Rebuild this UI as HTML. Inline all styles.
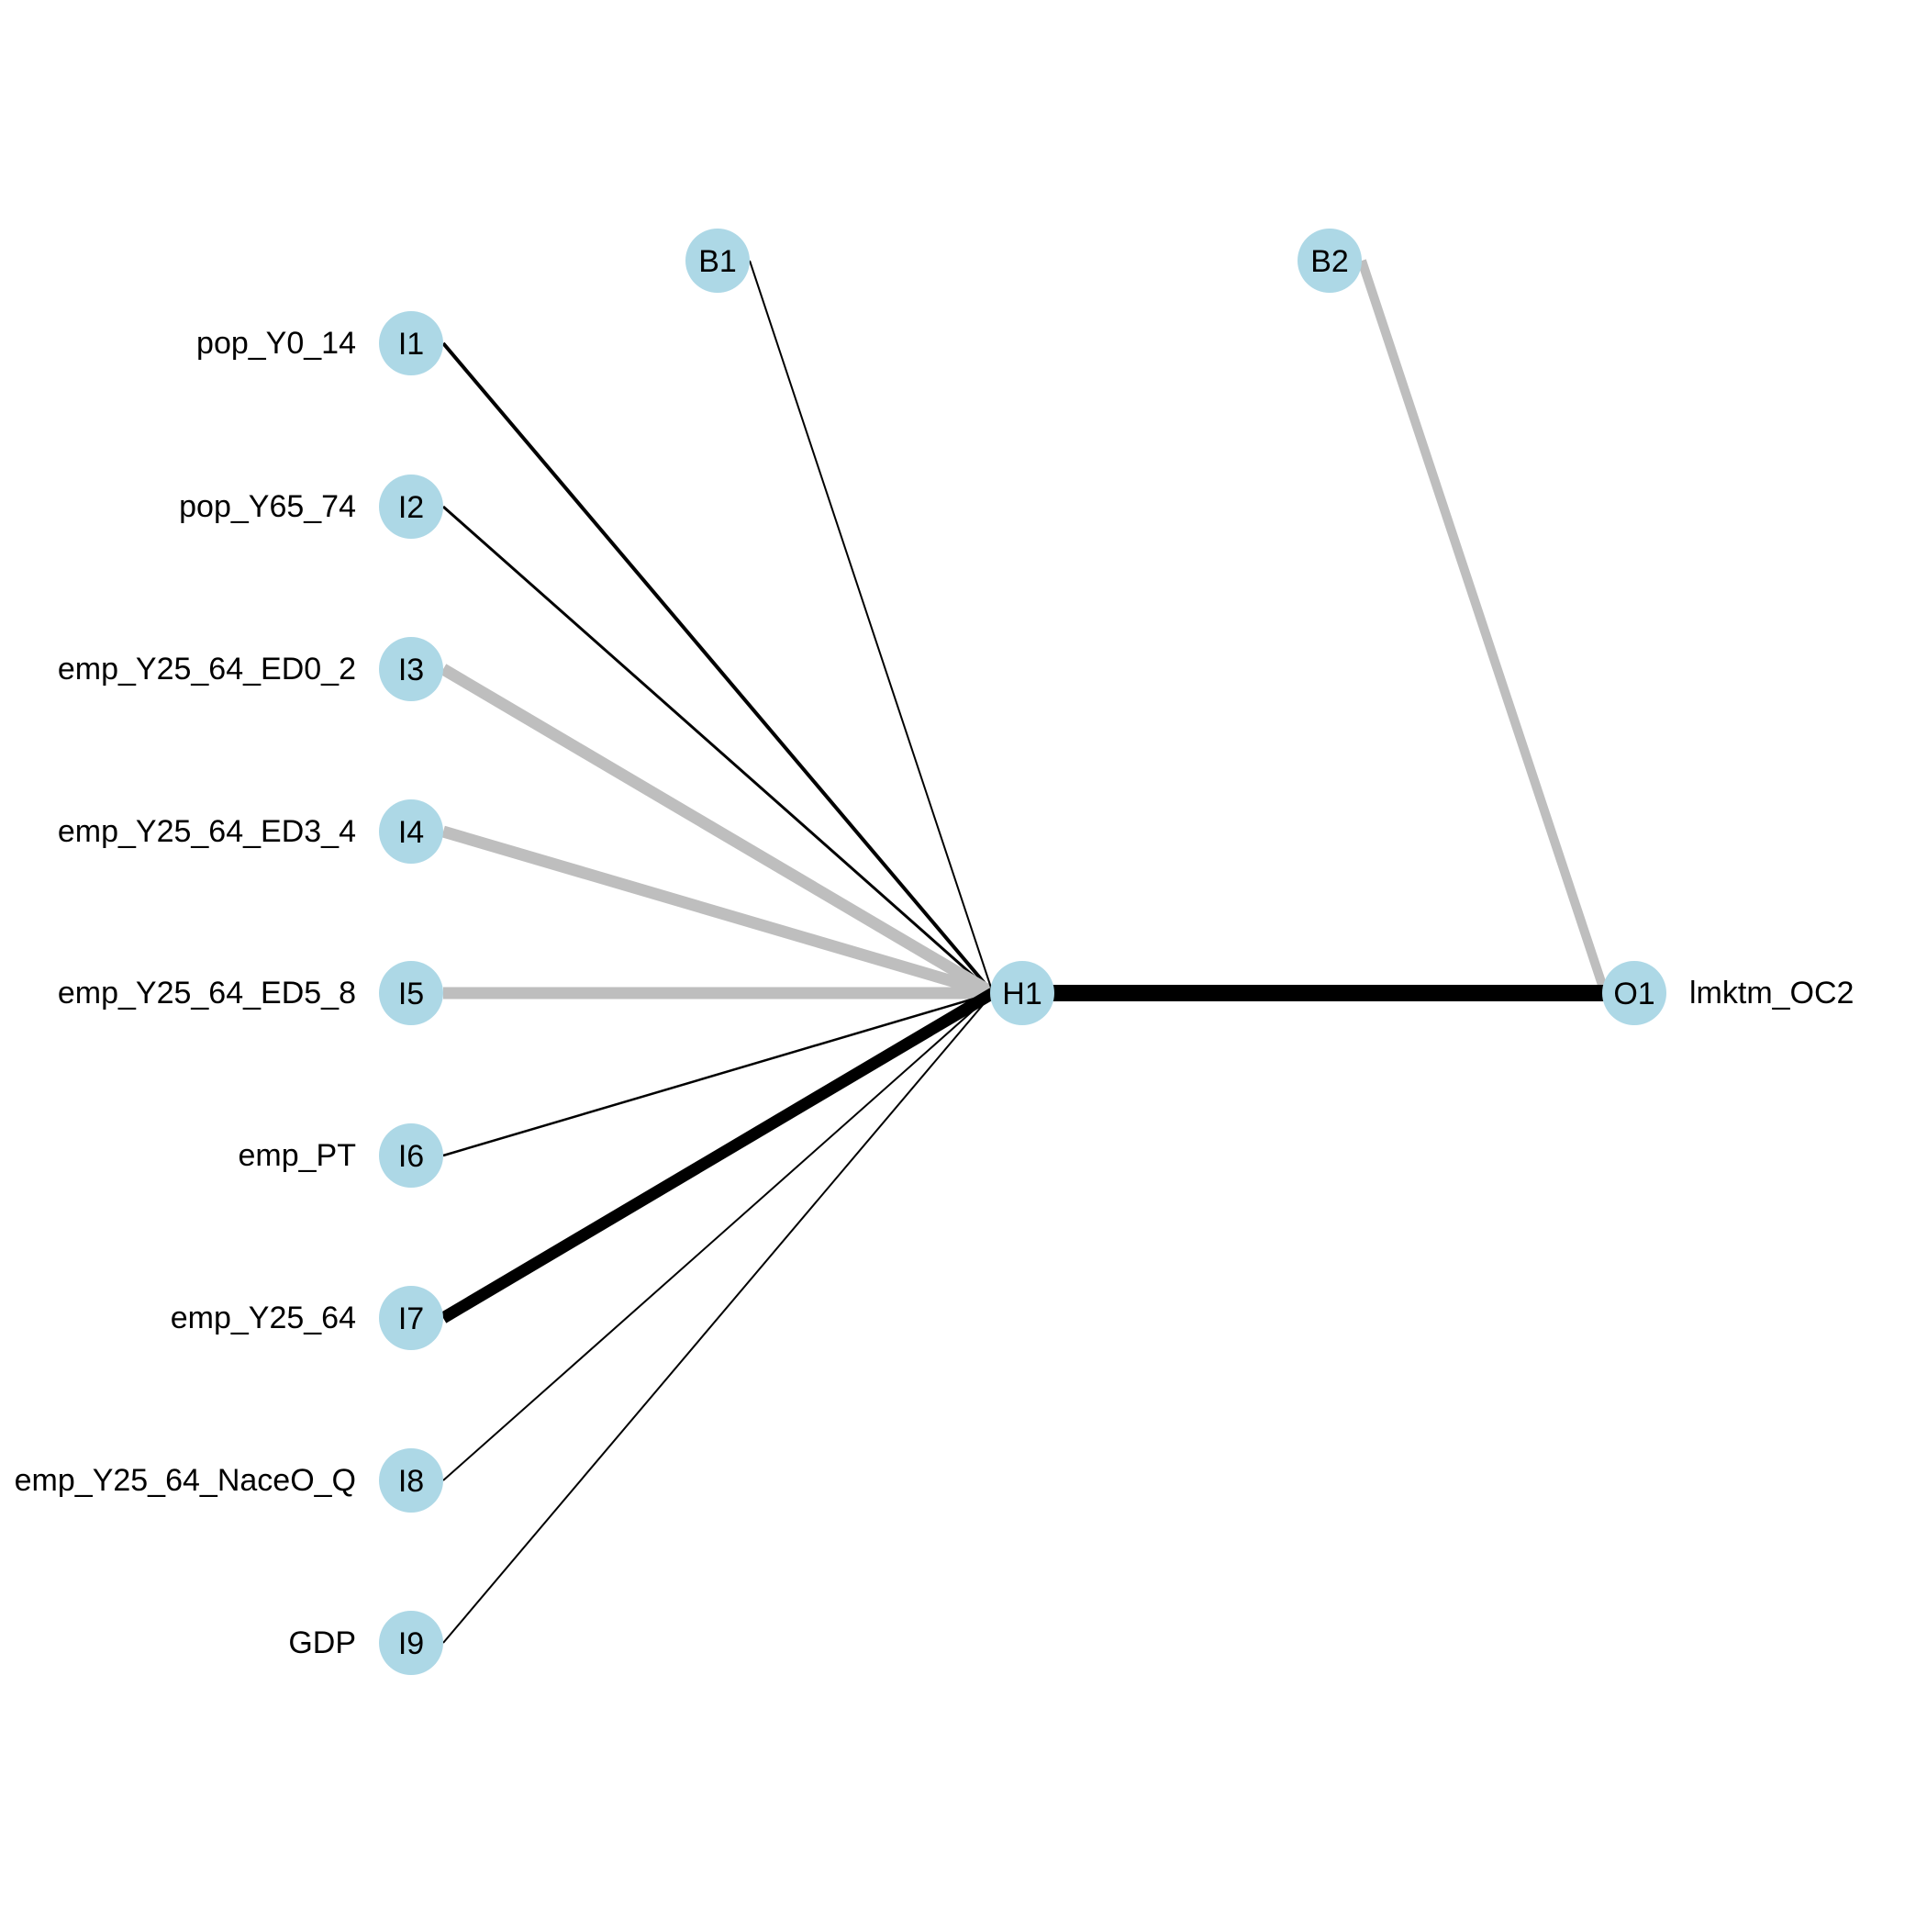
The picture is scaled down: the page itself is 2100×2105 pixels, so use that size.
<!DOCTYPE html>
<html><head><meta charset="utf-8"><style>html,body{margin:0;padding:0;background:#fff}</style></head>
<body>
<svg width="2100" height="2100" viewBox="0 0 2100 2100" xmlns="http://www.w3.org/2000/svg" font-family="Liberation Sans, Arial, sans-serif">
<rect width="2100" height="2100" fill="#fff"/>
<g stroke-linecap="butt">
<line x1="483" y1="374" x2="1082" y2="1082" stroke="#000" stroke-width="4"/>
<line x1="483" y1="552" x2="1082" y2="1082" stroke="#000" stroke-width="3"/>
<line x1="483" y1="729" x2="1082" y2="1082" stroke="#bebebe" stroke-width="13"/>
<line x1="483" y1="906" x2="1082" y2="1082" stroke="#bebebe" stroke-width="13"/>
<line x1="483" y1="1082" x2="1082" y2="1082" stroke="#bebebe" stroke-width="13"/>
<line x1="483" y1="1259" x2="1082" y2="1082" stroke="#000" stroke-width="2.5"/>
<line x1="483" y1="1436" x2="1082" y2="1082" stroke="#000" stroke-width="13"/>
<line x1="483" y1="1613" x2="1082" y2="1082" stroke="#000" stroke-width="2"/>
<line x1="483" y1="1790" x2="1082" y2="1082" stroke="#000" stroke-width="2"/>
<line x1="817" y1="284" x2="1082" y2="1082" stroke="#000" stroke-width="2"/>
<line x1="1484" y1="284" x2="1749" y2="1082" stroke="#bebebe" stroke-width="10"/>
<line x1="1114" y1="1082" x2="1749" y2="1082" stroke="#000" stroke-width="18"/>
</g>
<g fill="#add8e6">
<circle cx="448" cy="374" r="35"/><circle cx="448" cy="552" r="35"/><circle cx="448" cy="729" r="35"/>
<circle cx="448" cy="906" r="35"/><circle cx="448" cy="1082" r="35"/><circle cx="448" cy="1259" r="35"/>
<circle cx="448" cy="1436" r="35"/><circle cx="448" cy="1613" r="35"/><circle cx="448" cy="1790" r="35"/>
<circle cx="782" cy="284" r="35"/><circle cx="1449" cy="284" r="35"/>
<circle cx="1114" cy="1082" r="35"/><circle cx="1781" cy="1082" r="35"/>
</g>
<g font-size="34" text-anchor="middle" fill="#000">
<text x="448" y="386">I1</text><text x="448" y="564">I2</text><text x="448" y="741">I3</text>
<text x="448" y="918">I4</text><text x="448" y="1094">I5</text><text x="448" y="1271">I6</text>
<text x="448" y="1448">I7</text><text x="448" y="1625">I8</text><text x="448" y="1802">I9</text>
<text x="782" y="296">B1</text><text x="1449" y="296">B2</text>
<text x="1114" y="1094">H1</text><text x="1781" y="1094">O1</text>
</g>
<g font-size="34" text-anchor="end" fill="#000">
<text x="388" y="385">pop_Y0_14</text>
<text x="388" y="563">pop_Y65_74</text>
<text x="388" y="740">emp_Y25_64_ED0_2</text>
<text x="388" y="917">emp_Y25_64_ED3_4</text>
<text x="388" y="1093">emp_Y25_64_ED5_8</text>
<text x="388" y="1270">emp_PT</text>
<text x="388" y="1447">emp_Y25_64</text>
<text x="388" y="1624">emp_Y25_64_NaceO_Q</text>
<text x="388" y="1801">GDP</text>
</g>
<text x="1841" y="1093" font-size="34" fill="#000">lmktm_OC2</text>
</svg>
</body></html>
